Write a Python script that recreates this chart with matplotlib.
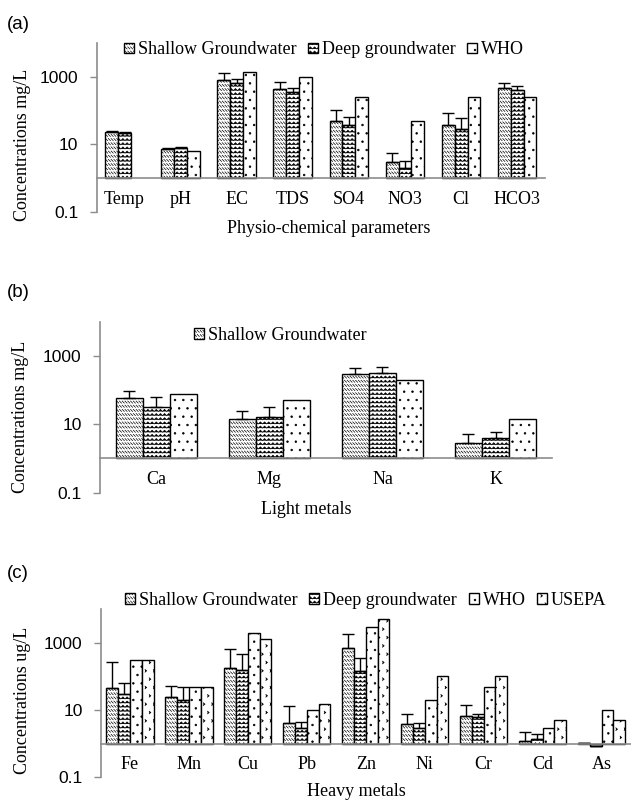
import warnings
import numpy as np
import matplotlib
matplotlib.use("Agg")
import matplotlib.pyplot as plt
import matplotlib.hatch as mhatch
from matplotlib.path import Path
from matplotlib.ticker import FixedLocator, FuncFormatter, NullLocator

warnings.filterwarnings("ignore")

# ---- values ----
params = ["Temp", "pH", "EC", "TDS", "SO4", "NO3", "Cl", "HCO3"]
shallow_a = [23, 7.1, 795, 430, 50, 3.0, 38, 470]
shallow_a_err = [1.5, 0.6, 495, 260, 57, 2.5, 45, 205]
deep_a = [21, 7.6, 660, 355, 38, 2.0, 28, 410]
deep_a_err = [1.5, 0.6, 205, 115, 27, 1.3, 31, 140]
who_a = [np.nan, 6.5, 1400, 1000, 250, 50, 250, 250]

light = ["Ca", "Mg", "Na", "K"]
shallow_b = [60, 14, 300, 2.9]
shallow_b_err = [34, 11, 155, 2.3]
deep_b = [33, 16.5, 310, 3.9]
deep_b_err = [28, 16.5, 165, 2.0]
who_b = [75, 50, 200, 14]

heavy = ["Fe", "Mn", "Cu", "Pb", "Zn", "Ni", "Cr", "Cd", "As"]
shallow_c = [47, 25, 178, 4.0, 690, 3.9, 6.9, 1.17, 1.05]
shallow_c_err = [225, 27, 497, 9.6, 1090, 3.8, 7.6, 1.13, 0]
deep_c = [30, 20, 155, 3.0, 147, 2.9, 6.1, 1.4, 0.85]
deep_c_err = [35, 30, 305, 1.4, 203, 1.3, 1.6, 0.6, 0]
who_c = [300, 50, 2000, 10, 3000, 20, 50, 3, 10]
usepa_c = [300, 50, 1300, 15, 5000, 100, 100, 5, 5]


# ---- excel-like fill patterns as extra hatch types ----
class DashDiag(mhatch.HatchPatternBase):
    # rows of short "\" strokes (shallow groundwater)
    def __init__(self, hatch, density):
        self.rows = int(hatch.count("d") * density)
        self.cols = int(self.rows * 1.5)
        self.num_vertices = 2 * self.rows * self.cols

    def set_vertices_and_codes(self, vertices, codes):
        gx, gy = np.meshgrid(np.arange(self.cols) / self.cols,
                             np.arange(self.rows) / self.rows)
        gx, gy = gx.ravel(), gy.ravel()
        h = 0.5 / self.rows
        vertices[0::2, 0] = gx
        vertices[0::2, 1] = gy + 0.5 * h + h
        vertices[1::2, 0] = gx + h
        vertices[1::2, 1] = gy + 0.5 * h
        codes[0::2] = Path.MOVETO
        codes[1::2] = Path.LINETO


class ZigZag(mhatch.HatchPatternBase):
    # horizontal zigzag rows (deep groundwater)
    def __init__(self, hatch, density):
        self.rows = int(hatch.count("z") * density)
        self.teeth = self.rows
        self.per = 2 * self.teeth + 1
        self.num_vertices = self.rows * self.per

    def set_vertices_and_codes(self, vertices, codes):
        xs = np.linspace(0, 1, self.per)
        amp = 0.5 / self.rows
        for i in range(self.rows):
            s = slice(i * self.per, (i + 1) * self.per)
            vertices[s, 0] = xs
            vertices[s, 1] = (i + 0.25) / self.rows + amp * (np.arange(self.per) % 2)
            codes[s] = Path.LINETO
            codes[i * self.per] = Path.MOVETO


class Chevrons(mhatch.HatchPatternBase):
    # small ">" marks (USEPA)
    def __init__(self, hatch, density):
        self.rows = int(hatch.count("v") * density)
        r = self.rows
        n_marks = ((r + 1) // 2) * (r + 1) + (r // 2) * r
        self.num_vertices = 3 * n_marks

    def set_vertices_and_codes(self, vertices, codes):
        off = 1.0 / self.rows
        s = 0.16 * off
        pts = []
        for r in range(self.rows):
            cols = np.linspace(0, 1, self.rows + 1) if r % 2 == 0 else \
                np.linspace(off / 2, 1 - off / 2, self.rows)
            for c in cols:
                y = r * off + off / 2
                pts += [(c - s * 0.6, y + s), (c + s * 0.6, y), (c - s * 0.6, y - s)]
        vertices[:] = np.array(pts)
        codes[0::3] = Path.MOVETO
        codes[1::3] = Path.LINETO
        codes[2::3] = Path.LINETO


mhatch._hatch_types.extend([DashDiag, ZigZag, Chevrons])

plt.rcParams["hatch.linewidth"] = 0.5
plt.rcParams["hatch.color"] = "#505050"
SERIF = "Liberation Serif"
SANS = "Liberation Sans"
GREY = "#8c8c8c"

fig = plt.figure(figsize=(6.31, 8.02), dpi=100)

ax_a = fig.add_axes([0.153, 0.7357, 0.711, 0.2107])
ax_b = fig.add_axes([0.158, 0.3857, 0.717, 0.2132])
ax_c = fig.add_axes([0.1594, 0.0308, 0.8406, 0.2095])


def draw_groups(ax, cats, series, width):
    x = np.arange(len(cats))
    n = len(series)
    handles = []
    for i, (vals, err, hatch, label) in enumerate(series):
        vals = np.asarray(vals, dtype=float)
        pos = x + (i - (n - 1) / 2) * width
        bars = ax.bar(pos, vals - 1, bottom=1, width=width, color="white",
                      edgecolor="black", linewidth=1.0, hatch=hatch,
                      label=label, zorder=2)
        handles.append(bars)
        if err is not None:
            ax.errorbar(pos, vals, yerr=[np.zeros(len(vals)), err], fmt="none",
                        ecolor="black", elinewidth=1.0, capsize=4, capthick=1.0,
                        zorder=3)
    return handles


def style_axes(ax, cats, ylab, xlab, ylab_pos, xlab_pos):
    ax.set_yscale("log")
    ax.set_ylim(0.1, 10000)
    ax.set_xlim(-0.5, len(cats) - 0.5)
    ax.yaxis.set_major_locator(FixedLocator([0.1, 10, 1000]))
    ax.yaxis.set_major_formatter(FuncFormatter(lambda v, p: f"{v:g}"))
    ax.yaxis.set_minor_locator(NullLocator())
    ax.set_xticks(np.arange(len(cats)))
    ax.set_xticklabels(cats)
    ax.tick_params(axis="x", length=0, pad=9, labelsize=13,
                   labelfontfamily=SERIF)
    ax.tick_params(axis="y", length=5, width=1, color=GREY, pad=8,
                   labelsize=12.5, labelfontfamily=SANS)
    ax.spines["top"].set_visible(False)
    ax.spines["right"].set_visible(False)
    ax.spines["bottom"].set_position(("data", 1))
    for sp in ("left", "bottom"):
        ax.spines[sp].set_color(GREY)
        ax.spines[sp].set_linewidth(1.2)
    ax.spines["bottom"].set_zorder(4)
    ax.set_ylabel(ylab, fontsize=13, family=SERIF, va="center")
    ax.yaxis.set_label_coords(*ylab_pos)
    ax.set_xlabel(xlab, fontsize=13, family=SERIF, va="center")
    ax.xaxis.set_label_coords(*xlab_pos)
    ax.patch.set_alpha(0)


leg_kw = dict(frameon=False, prop={"family": SERIF, "size": 13},
              handlelength=0.55, handleheight=0.55, handletextpad=0.22,
              columnspacing=0.65, borderpad=0, loc="center")

# (a) physio-chemical parameters
h_a = draw_groups(ax_a, params, [
    (shallow_a, shallow_a_err, "dddd", "Shallow Groundwater"),
    (deep_a, deep_a_err, "zzzz", "Deep groundwater"),
    (who_a, None, "..", "WHO"),
], width=0.23)
style_axes(ax_a, params, "Concentrations mg/L", "Physio-chemical parameters",
           (-0.165, 0.40), (0.518, -0.095))
ax_a.legend(handles=h_a, ncol=3, bbox_to_anchor=(0.507, 0.959), **leg_kw)

# (b) light metals
h_b = draw_groups(ax_b, light, [
    (shallow_b, shallow_b_err, "dddd", "Shallow Groundwater"),
    (deep_b, deep_b_err, "zzzz", "Deep groundwater"),
    (who_b, None, "..", "WHO"),
], width=0.24)
style_axes(ax_b, light, "Concentrations mg/L", "Light metals",
           (-0.174, 0.446), (0.456, -0.101))
ax_b.legend(handles=h_b[:1], ncol=1, bbox_to_anchor=(0.399, 0.922), **leg_kw)

# (c) heavy metals
h_c = draw_groups(ax_c, heavy, [
    (shallow_c, shallow_c_err, "dddd", "Shallow Groundwater"),
    (deep_c, deep_c_err, "zzzz", "Deep groundwater"),
    (who_c, None, "..", "WHO"),
    (usepa_c, None, "vv", "USEPA"),
], width=0.2)
style_axes(ax_c, heavy, "Concentrations ug/L", "Heavy metals",
           (-0.148, 0.46), (0.4815, -0.085))
ax_c.legend(handles=h_c, ncol=4, bbox_to_anchor=(0.50, 1.055), **leg_kw)

for lab, y in (("(a)", 0.969), ("(b)", 0.635), ("(c)", 0.2855)):
    fig.text(0.011, y, lab, fontsize=13.5, family=SANS, va="center", ha="left")

fig.savefig("out.png", dpi=100)
